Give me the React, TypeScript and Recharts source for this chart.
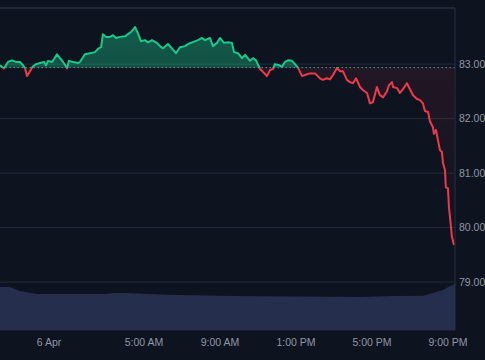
import { ComposedChart, Area, XAxis, YAxis, CartesianGrid, ReferenceLine } from 'recharts';

// hours relative to midnight 6 Apr
const hours = [
  -2.58, -2.37, -2.16, -1.95, -1.74, -1.53, -1.37, -1.26, -1.16, -1.0, -0.84, -0.68, -0.47, -0.26, -0.16, -0.05,
  0.16, 0.26, 0.42, 0.58, 0.74, 0.89, 0.95, 1.05, 1.26, 1.53, 1.63, 1.89, 2.16, 2.42, 2.58, 2.74, 2.84, 3.0,
  3.21, 3.37, 3.53, 3.74, 4.0, 4.16, 4.32, 4.53, 4.68, 4.84, 5.05, 5.21, 5.42, 5.68, 5.84, 6.0, 6.26, 6.47,
  6.68, 6.89, 7.16, 7.32, 7.53, 7.84, 8.05, 8.21, 8.47, 8.63, 8.84, 9.0, 9.21, 9.42, 9.63, 9.74, 9.95, 10.16,
  10.32, 10.58, 10.74, 10.89, 11.11, 11.37, 11.47, 11.63, 11.79, 11.89, 12.11, 12.26, 12.42, 12.58, 12.79,
  12.95, 13.11, 13.32, 13.47, 13.74, 14.0, 14.26, 14.42, 14.63, 14.79, 14.95, 15.16, 15.32, 15.47, 15.68,
  15.84, 16.0, 16.16, 16.37, 16.53, 16.74, 16.89, 17.05, 17.26, 17.42, 17.58, 17.79, 17.89, 18.05, 18.11,
  18.32, 18.47, 18.63, 18.84, 19.0, 19.16, 19.37, 19.53, 19.68, 19.79, 19.95, 20.05, 20.21, 20.26, 20.37,
  20.47, 20.58, 20.68, 20.74, 20.84, 20.89, 21.0, 21.05, 21.16, 21.21, 21.32,
];

const prices = [
  82.98, 82.92, 83.04, 83.07, 83.04, 83.04, 82.98, 82.92, 82.78, 82.87, 82.96, 83.0, 83.02, 83.04, 82.98, 83.06,
  83.04, 83.09, 83.18, 83.11, 83.04, 82.96, 82.92, 83.06, 83.04, 83.02, 83.04, 83.18, 83.2, 83.22, 83.28, 83.31, 83.55, 83.5,
  83.5, 83.53, 83.48, 83.5, 83.51, 83.55, 83.59, 83.68, 83.57, 83.42, 83.44, 83.4, 83.44, 83.39, 83.33, 83.29, 83.37, 83.29,
  83.2, 83.31, 83.33, 83.37, 83.4, 83.44, 83.48, 83.44, 83.48, 83.33, 83.39, 83.48, 83.39, 83.4, 83.39, 83.22, 83.2, 83.11,
  83.17, 83.06, 83.11, 83.07, 82.91, 82.82, 82.78, 82.89, 82.91, 83.0, 82.98, 82.95, 83.04, 83.07, 83.06,
  83.0, 82.93, 82.78, 82.8, 82.83, 82.83, 82.74, 82.71, 82.74, 82.72, 82.8, 82.93, 82.87, 82.87, 82.71,
  82.67, 82.65, 82.74, 82.58, 82.52, 82.47, 82.28, 82.3, 82.58, 82.43, 82.39, 82.5, 82.61, 82.67, 82.58,
  82.56, 82.47, 82.54, 82.65, 82.54, 82.43, 82.36, 82.34, 82.28, 82.14, 82.12, 81.95, 81.84, 81.72, 81.79,
  81.61, 81.42, 81.39, 81.18, 81.06, 80.74, 80.72, 80.38, 80.01, 79.83, 79.68,
];

const volumeHours = [-2.58, -2.05, -1.53, -0.63, 3.0, 3.4, 4.0, 6.2, 9.7, 16.4, 18.1, 19.7, 20.2, 20.74, 21.1, 21.37];
const volumes = [1.0, 1.0, 0.91, 0.84, 0.84, 0.86, 0.86, 0.82, 0.79, 0.77, 0.79, 0.8, 0.86, 0.93, 1.02, 1.07];

const priceTicks = [79, 80, 81, 82, 83];
const timeTicks = [0, 5, 9, 13, 17, 21];
const openPrice = 82.935;
const priceDomain = [78.12, 84.03];
const timeDomain = [-2.58, 21.37];

const priceData = hours.map((t, i) => ({ t, price: prices[i] }));
const volumeData = volumeHours.map((t, i) => ({ t, volume: volumes[i] }));

const maxP = Math.max(...prices, openPrice);
const minP = Math.min(...prices, openPrice);
const split = (maxP - openPrice) / (maxP - minP);

const green = '#19c98a';
const red = '#ee3a48';
const axisText = { fill: '#9197a5', fontSize: 10.5, fontFamily: 'Liberation Sans, Arial, sans-serif' };

const formatTime = (h: number) => {
  if (h === 0) return '6 Apr';
  const hr = h % 12 || 12;
  return `${hr}:00 ${h < 12 ? 'AM' : 'PM'}`;
};

export default function App() {
  return (
    <div style={{ position: 'absolute', top: 0, left: 0, width: 485, height: 360, background: '#0e1320', overflow: 'hidden' }}>
      <ComposedChart width={485} height={360} margin={{ top: 8, right: 0, bottom: 0, left: 0 }}>
        <defs>
          <linearGradient id="priceStroke" x1="0" y1="0" x2="0" y2="1">
            <stop offset={0} stopColor={green} />
            <stop offset={split} stopColor={green} />
            <stop offset={split} stopColor={red} />
            <stop offset={1} stopColor={red} />
          </linearGradient>
          <linearGradient id="priceFill" x1="0" y1="0" x2="0" y2="1">
            <stop offset={0} stopColor={green} stopOpacity={0.4} />
            <stop offset={split} stopColor={green} stopOpacity={0.34} />
            <stop offset={split} stopColor={red} stopOpacity={0.09} />
            <stop offset={1} stopColor={red} stopOpacity={0.0} />
          </linearGradient>
        </defs>
        <CartesianGrid yAxisId="price" vertical={false} stroke="#262b39" />
        <XAxis
          dataKey="t"
          type="number"
          domain={timeDomain}
          ticks={timeTicks}
          tickFormatter={formatTime}
          allowDataOverflow
          axisLine={false}
          tickLine={false}
          tickSize={0}
          tickMargin={9}
          height={30}
          tick={axisText}
        />
        <YAxis
          yAxisId="price"
          orientation="right"
          domain={priceDomain}
          ticks={priceTicks}
          tickFormatter={(v: number) => v.toFixed(2)}
          allowDataOverflow
          width={30}
          axisLine={{ stroke: '#2a303e' }}
          tickLine={false}
          tickSize={0}
          tickMargin={4}
          tick={axisText}
        />
        <YAxis yAxisId="vol" hide domain={[0, 7.5]} />
        <ReferenceLine yAxisId="price" y={priceDomain[1]} stroke="#2a303e" ifOverflow="visible" />
        <Area
          yAxisId="vol"
          data={volumeData}
          dataKey="volume"
          type="linear"
          stroke="none"
          fill="#262e4e"
          fillOpacity={1}
          isAnimationActive={false}
        />
        <ReferenceLine yAxisId="price" y={openPrice} stroke="#7d8494" strokeDasharray="1.5 2.5" />
        <Area
          yAxisId="price"
          data={priceData}
          dataKey="price"
          type="linear"
          baseValue={openPrice}
          stroke="url(#priceStroke)"
          strokeWidth={2}
          strokeLinejoin="round"
          fill="url(#priceFill)"
          fillOpacity={1}
          dot={false}
          activeDot={false}
          isAnimationActive={false}
        />
      </ComposedChart>
    </div>
  );
}
